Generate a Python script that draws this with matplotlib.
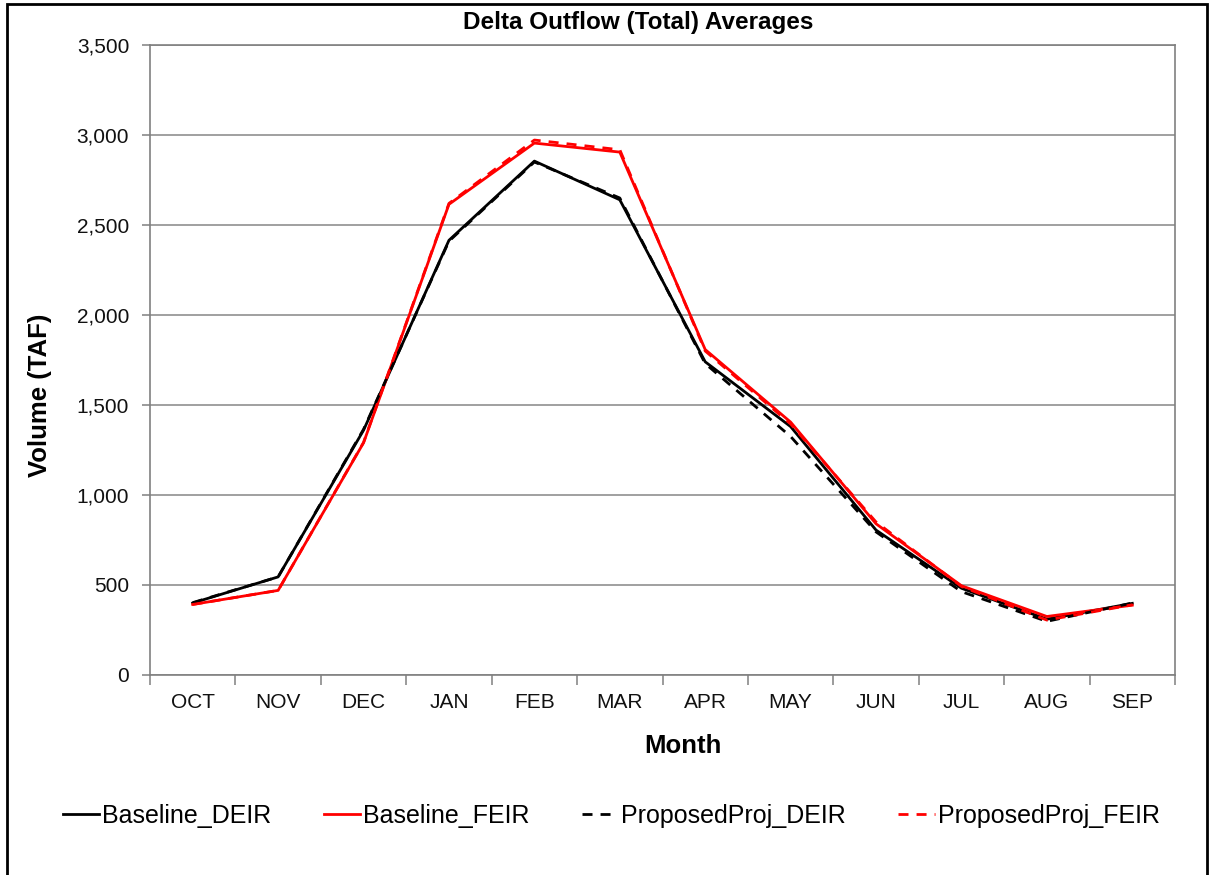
import matplotlib.pyplot as plt
import numpy as np
from matplotlib.patches import Rectangle
from matplotlib.ticker import FuncFormatter, FixedLocator

plt.rcParams['font.family'] = ['Liberation Sans', 'DejaVu Sans']

# Data (TAF)
months = ['OCT', 'NOV', 'DEC', 'JAN', 'FEB', 'MAR', 'APR', 'MAY', 'JUN', 'JUL', 'AUG', 'SEP']
baseline_deir = [400, 545, 1360, 2415, 2855, 2640, 1740, 1380, 805, 482, 310, 398]
baseline_feir = [392, 470, 1290, 2615, 2955, 2905, 1808, 1405, 840, 496, 325, 388]
proposed_deir = [402, 545, 1365, 2410, 2850, 2650, 1730, 1325, 795, 463, 298, 400]
proposed_feir = [392, 470, 1292, 2620, 2972, 2918, 1800, 1395, 850, 492, 305, 390]

W, H = 1209, 875
fig = plt.figure(figsize=(W/100, H/100), dpi=100)
ax = fig.add_axes([150/W, 1-675/H, 1025/W, 630/H])

x = np.arange(len(months))
lw = 2.0
dash = (0, (3.6, 2.9))
ax.plot(x, baseline_deir, color='black', lw=lw, label='Baseline_DEIR')
ax.plot(x, baseline_feir, color='red', lw=lw, label='Baseline_FEIR')
ax.plot(x, proposed_deir, color='black', lw=lw, ls=dash, label='ProposedProj_DEIR')
ax.plot(x, proposed_feir, color='red', lw=lw, ls=dash, label='ProposedProj_FEIR')

ax.set_xlim(-0.5, len(months) - 0.5)
ax.set_ylim(0, 3500)
ax.set_yticks(np.arange(0, 3501, 500))
ax.yaxis.set_major_formatter(FuncFormatter(lambda v, p: f'{int(v):,}'))
ax.yaxis.grid(True, color='#868686', lw=1.1)
ax.set_axisbelow(True)

# month labels centred, tick marks between categories
ax.set_xticks(x)
ax.set_xticklabels(months)
ax.xaxis.set_minor_locator(FixedLocator(np.arange(-0.5, len(months), 1.0)))
ax.tick_params(axis='x', which='major', length=0, pad=13, labelsize=15, colors='#111111')
ax.tick_params(axis='x', which='minor', length=7, width=1.1, color='#808080')
ax.tick_params(axis='y', length=6, width=1.1, color='#808080', labelsize=15, pad=9, labelcolor='#111111')

for s in ax.spines.values():
    s.set_color('#808080')
    s.set_linewidth(1.2)

fig.text(638/W, 1-23/H, 'Delta Outflow (Total) Averages', fontsize=17.5, fontweight='bold',
         ha='center', va='center')
fig.text(683/W, 1-746/H, 'Month', fontsize=18.5, fontweight='bold', ha='center', va='center')
fig.text(40/W, 1-395/H, 'Volume (TAF)', fontsize=18.5, fontweight='bold', ha='center',
         va='center', rotation=90)

fig.legend(loc='center', bbox_to_anchor=(611/W, 1-816/H), ncol=4, frameon=False,
           fontsize=18, handlelength=1.45, handletextpad=0.12, columnspacing=2.1)

# chart border
fig.patches.append(Rectangle((7/W, -0.1), 1200/W, 1.1 - 4/H, transform=fig.transFigure,
                             fill=False, ec='black', lw=2, clip_on=False))

fig.savefig('out.png', dpi=100)
